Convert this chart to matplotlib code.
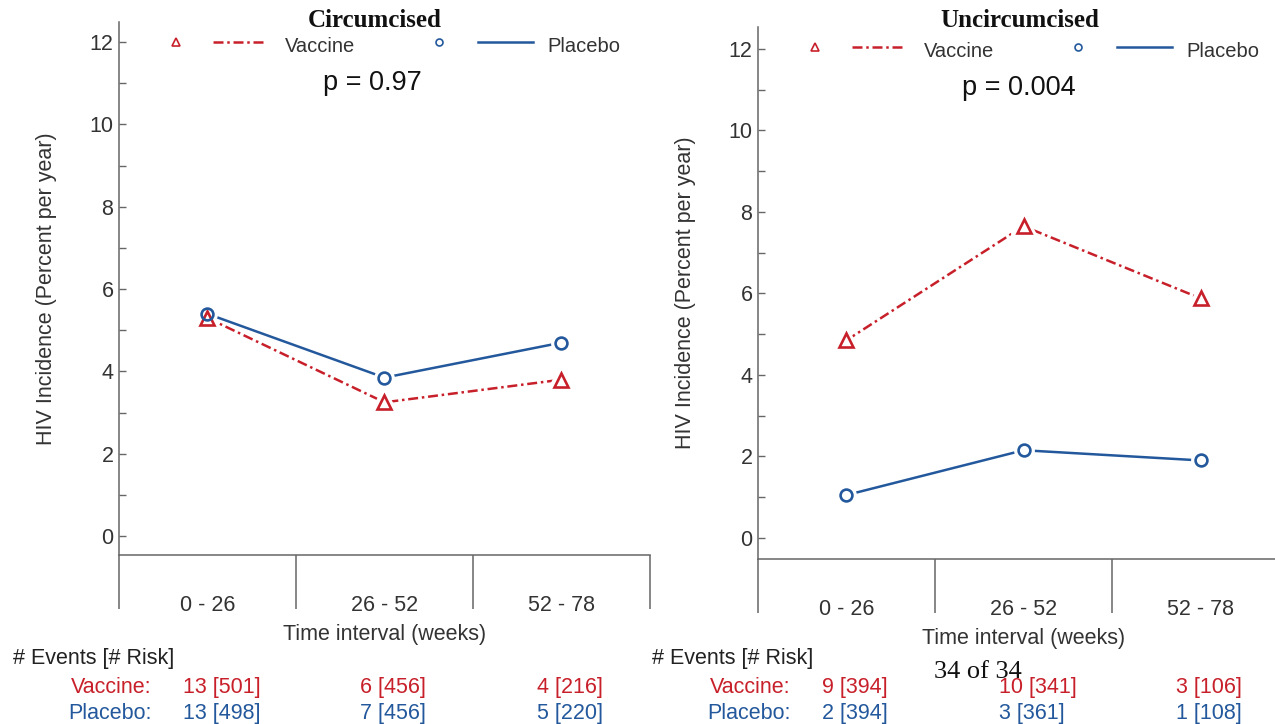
import matplotlib
matplotlib.use('Agg')
import matplotlib.pyplot as plt
import matplotlib.transforms as mtransforms
import numpy as np

plt.rcParams['font.family'] = ['Liberation Sans', 'DejaVu Sans']

intervals = ['0 - 26', '26 - 52', '52 - 78']
circ_vaccine = [5.3, 3.25, 3.8]
circ_placebo = [5.4, 3.85, 4.7]
unc_vaccine = [4.85, 7.65, 5.88]
unc_placebo = [1.05, 2.15, 1.9]

circ_vac_counts = ['13 [501]', '6 [456]', '4 [216]']
circ_pla_counts = ['13 [498]', '7 [456]', '5 [220]']
unc_vac_counts = ['9 [394]', '10 [341]', '3 [106]']
unc_pla_counts = ['2 [394]', '3 [361]', '1 [108]']

red = '#c8202a'
blue = '#23589c'
axcol = '#666666'
txtcol = '#333333'

fig = plt.figure(figsize=(12.75, 7.24), dpi=100)


def draw_panel(rect, ylim, vac, pla, pval, title, title_x, vac_counts, pla_counts):
    ax = fig.add_axes(rect)
    x = np.arange(1, len(intervals) + 1)

    ax.plot(x, vac, color=red, lw=1.8, ls=(0, (4, 1.5, 1, 1.5)), zorder=2)
    ax.plot(x, pla, color=blue, lw=1.8, zorder=2)
    # white halo so the lines stop short of the markers
    ax.plot(x, vac, ls='none', marker='^', ms=11, mfc='white', mec='white', mew=6, zorder=3)
    ax.plot(x, pla, ls='none', marker='o', ms=9, mfc='white', mec='white', mew=6, zorder=3)
    ax.plot(x, vac, ls='none', marker='^', ms=10, mfc='none', mec=red, mew=1.9, zorder=4)
    ax.plot(x, pla, ls='none', marker='o', ms=8.5, mfc='none', mec=blue, mew=1.9, zorder=5)

    ax.set_xlim(0.5, 3.5)
    ax.set_ylim(*ylim)
    for s in ['top', 'right']:
        ax.spines[s].set_visible(False)
    for s in ['left', 'bottom']:
        ax.spines[s].set_color(axcol)
        ax.spines[s].set_linewidth(1.1)

    ax.set_yticks(np.arange(0, 13, 2))
    ax.set_yticks(np.arange(1, 12, 2), minor=True)
    ax.tick_params(axis='y', which='both', direction='in', length=5, width=1,
                   color=axcol, labelsize=15.5, labelcolor=txtcol, pad=4)

    ax.set_xticks(x)
    ax.set_xticklabels(intervals)
    ax.set_xticks([0.5, 1.5, 2.5, 3.5], minor=True)
    ax.tick_params(axis='x', which='major', length=0, pad=29, labelsize=15.5,
                   labelcolor=txtcol)
    ax.tick_params(axis='x', which='minor', direction='out', length=39, width=1.1,
                   color=axcol)

    ax.set_ylabel('HIV Incidence (Percent per year)', fontsize=15.5, color=txtcol)
    ax.yaxis.set_label_coords(-0.117, 0.5)
    ax.set_xlabel('Time interval (weeks)', fontsize=15.5, color=txtcol)
    ax.xaxis.set_label_coords(0.5, -0.129)

    # legend drawn by hand: marker, line sample, label
    ly = 0.962
    ax.plot([0.107], [ly], transform=ax.transAxes, marker='^', ms=5.5, mfc='none',
            mec=red, mew=1.2, clip_on=False)
    ax.plot([0.177, 0.277], [ly, ly], transform=ax.transAxes, color=red, lw=1.8,
            ls=(0, (4, 1.5, 1, 1.5)), clip_on=False)
    ax.text(0.312, ly - 0.008, 'Vaccine', transform=ax.transAxes, fontsize=14.5,
            color=txtcol, va='center', ha='left')
    ax.plot([0.603], [ly], transform=ax.transAxes, marker='o', ms=5, mfc='none',
            mec=blue, mew=1.2, clip_on=False)
    ax.plot([0.676, 0.779], [ly, ly], transform=ax.transAxes, color=blue, lw=1.8,
            clip_on=False)
    ax.text(0.807, ly - 0.008, 'Placebo', transform=ax.transAxes, fontsize=14.5,
            color=txtcol, va='center', ha='left')

    ax.text(0.385, 0.885, 'p = ' + pval, transform=ax.transAxes, fontsize=19.5,
            color='#111111', va='center', ha='left')

    fig.text(title_x, 0.972, title, family='Liberation Serif', fontweight='bold',
             fontsize=18, ha='center', va='center', color='#111111')

    # events / at-risk table under the axis
    tr = mtransforms.blended_transform_factory(ax.transData, fig.transFigure)
    ax.text(-0.10, 0.091, '# Events [# Risk]', transform=tr, fontsize=15.5,
            color='#222222', ha='left', va='center', clip_on=False)
    ax.text(0.685, 0.051, 'Vaccine:', transform=tr, fontsize=15.5, color=red,
            ha='right', va='center', clip_on=False)
    ax.text(0.685, 0.0146, 'Placebo:', transform=tr, fontsize=15.5, color=blue,
            ha='right', va='center', clip_on=False)
    for xi, vc, pc in zip(x, vac_counts, pla_counts):
        ax.text(xi - 0.14, 0.051, vc, transform=tr, fontsize=15.5, color=red,
                ha='left', va='center', clip_on=False)
        ax.text(xi - 0.14, 0.0146, pc, transform=tr, fontsize=15.5, color=blue,
                ha='left', va='center', clip_on=False)
    return ax


draw_panel([0.0933, 0.2334, 0.4165, 0.7362], (-0.46, 12.49),
           circ_vaccine, circ_placebo, '0.97', 'Circumcised', 0.294,
           circ_vac_counts, circ_pla_counts)
draw_panel([0.5945, 0.2279, 0.4165, 0.7348], (-0.52, 12.54),
           unc_vaccine, unc_placebo, '0.004', 'Uncircumcised', 0.800,
           unc_vac_counts, unc_pla_counts)

fig.text(0.767, 0.072, '34 of 34', family='Liberation Serif', fontsize=19,
         ha='center', va='center', color='#111111')

fig.savefig('out.png', dpi=100)
